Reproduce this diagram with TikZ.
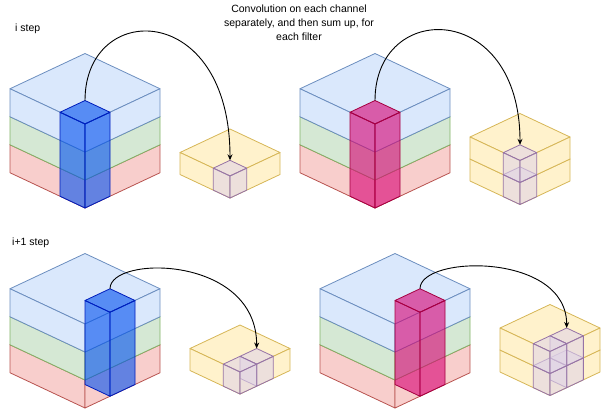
\documentclass[tikz,border=0pt]{standalone}
\usepackage{fontspec}
\setmainfont{Liberation Sans}
\usetikzlibrary{arrows.meta}
\definecolor{bF}{HTML}{DAE8FC}\definecolor{bD}{HTML}{6C8EBF}
\definecolor{gF}{HTML}{D5E8D4}\definecolor{gD}{HTML}{82B366}
\definecolor{rF}{HTML}{F8CECC}\definecolor{rD}{HTML}{B85450}
\definecolor{yF}{HTML}{FFF2CC}\definecolor{yD}{HTML}{D6B656}
\definecolor{pF}{HTML}{E1D5E7}\definecolor{pD}{HTML}{9673A6}
\definecolor{cbF}{HTML}{0050EF}\definecolor{cbD}{HTML}{001DBC}
\definecolor{cpF}{HTML}{D80073}\definecolor{cpD}{HTML}{A50040}
\tikzset{
 blue/.style={fill=bF,draw=bD},
 green/.style={fill=gF,draw=gD},
 red/.style={fill=rF,draw=rD},
 yel/.style={fill=yF,draw=yD},
 cube/.style={fill=pF,draw=pD,fill opacity=0.6},
 colb/.style={fill=cbF,draw=cbD,fill opacity=0.6},
 colp/.style={fill=cpF,draw=cpD,fill opacity=0.6},
 arr/.style={-{Stealth[length=6pt,width=5pt]},line width=0.9pt,black},
 lbl/.style={font=\fontsize{10.5}{14}\selectfont,inner sep=0pt}
}
\newcommand\ibox[6]{% fx fy L R H style
 \path[#6,line width=0.8pt,line join=round] (#1,#2) -- ++(-#3,-0.47*#3) -- ++(#4,-0.47*#4) -- ++(#3,0.47*#3) -- cycle;
 \path[#6,line width=0.8pt,line join=round] (#1,#2) -- ++(-#3,-0.47*#3) -- ++(0,#5) -- ++(#3,0.47*#3) -- cycle;
 \path[#6,line width=0.8pt,line join=round] (#1,#2) -- ++(#4,-0.47*#4) -- ++(0,#5) -- ++(-#4,0.47*#4) -- cycle;}
\newcommand\bigblock[2]{%
 \ibox{#1}{#2+56}{75}{75}{28}{red}
 \ibox{#1}{#2+28}{75}{75}{28}{green}
 \ibox{#1}{#2}{75}{75}{28}{blue}}
\begin{document}
\begin{tikzpicture}[x=1pt,y=-1pt]
\useasboundingbox (0,0) rectangle (601,410);
\node[lbl,anchor=west] (t1) at (15,29) {i step};
\node[lbl,anchor=west] (t2) at (12,243) {i+1 step};
\node[lbl,align=center] (cap) at (299,23) {Convolution on each channel\\separately, and then sum up, for\\each filter};
% row 1 left
\bigblock{85}{124}
\ibox{85}{124}{25}{25}{84}{colb}
\coordinate (s1) at (85,100.5);
\ibox{230}{176}{50}{50}{22}{yel}
\ibox{230}{176}{16.67}{16.67}{22}{cube}
\coordinate (e1) at (230,160.3);
% row 1 right
\bigblock{375}{124}
\ibox{375}{124}{25}{25}{84}{colp}
\coordinate (s2) at (375,100.5);
\ibox{520}{182.5}{50}{50}{22}{yel}
\ibox{520}{160.5}{50}{50}{22}{yel}
\ibox{520}{182.5}{16.67}{16.67}{22}{cube}
\ibox{520}{160.5}{16.67}{16.67}{22}{cube}
\coordinate (e2) at (520,144.8);
% row 2 left
\bigblock{85}{324}
\ibox{110}{312.25}{25}{25}{84}{colb}
\coordinate (s3) at (110,288.75);
\ibox{240}{372}{50}{50}{22}{yel}
\ibox{256.67}{364.17}{16.67}{16.67}{22}{cube}
\ibox{240}{372}{16.67}{16.67}{22}{cube}
\coordinate (e3) at (256.67,348.5);
% row 2 right
\bigblock{395}{324}
\ibox{420}{312.25}{25}{25}{84}{colp}
\coordinate (s4) at (420,288.75);
\ibox{550}{373.5}{50}{50}{22}{yel}
\ibox{550}{351.5}{50}{50}{22}{yel}
\ibox{566.67}{365.67}{16.67}{16.67}{22}{cube}
\ibox{550}{373.5}{16.67}{16.67}{22}{cube}
\ibox{566.67}{343.67}{16.67}{16.67}{22}{cube}
\ibox{550}{351.5}{16.67}{16.67}{22}{cube}
\coordinate (e4) at (566.67,328);
% arrows
\draw[arr] (s1) .. controls (85,0) and (230,0) .. (e1);
\draw[arr] (s2) .. controls (375,0) and (520,0) .. (e2);
\draw[arr] (s3) .. controls (110,255) and (256.67,255) .. (e3);
\draw[arr] (s4) .. controls (420,255) and (566.67,252) .. (e4);
\end{tikzpicture}
\end{document}
